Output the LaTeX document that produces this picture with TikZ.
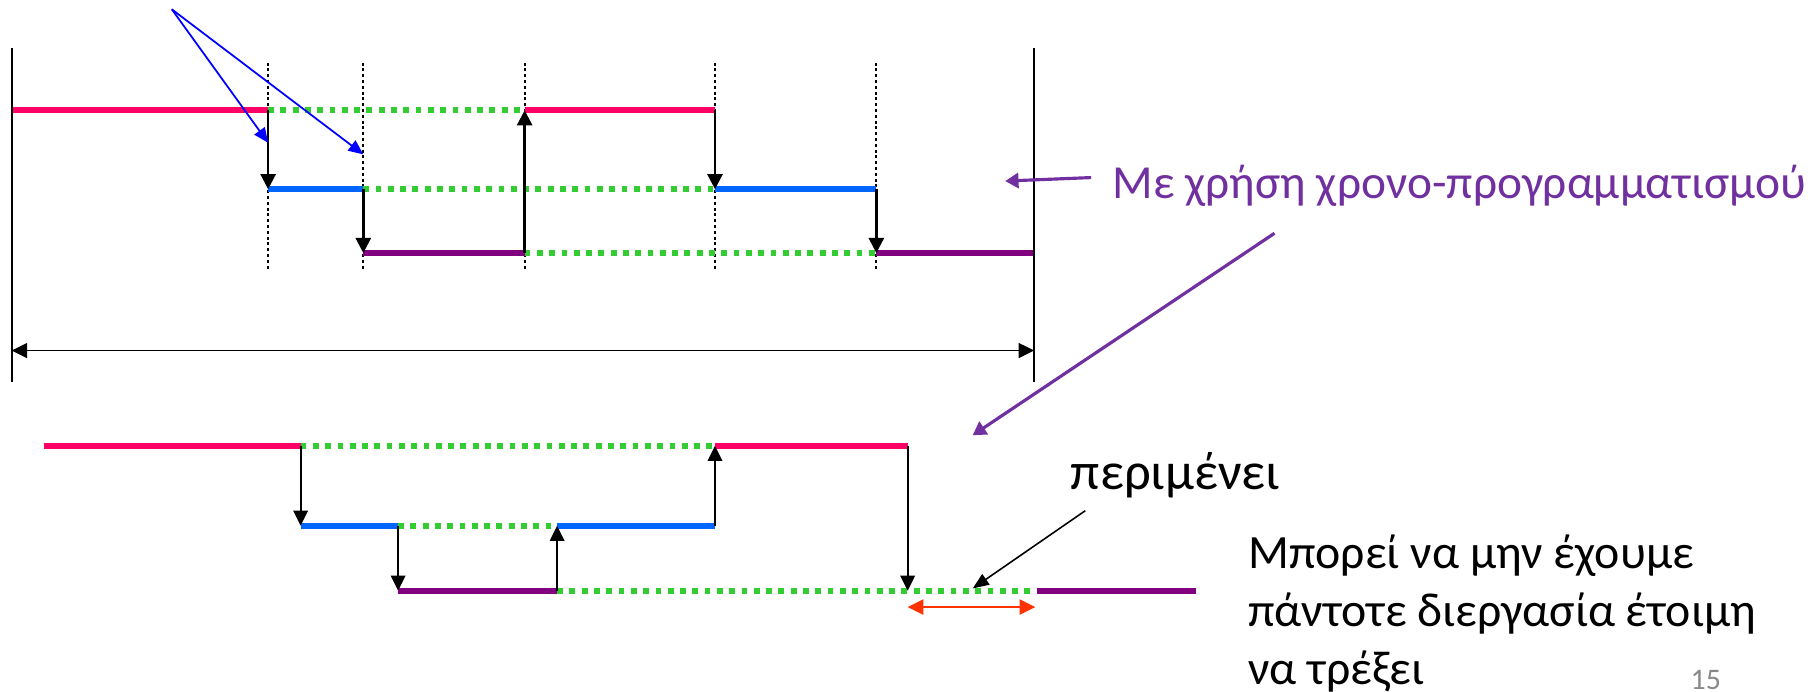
\documentclass[tikz,border=0pt]{standalone}
\usepackage{fontspec}
\setmainfont{Carlito}
\definecolor{procred}{RGB}{255,0,102}
\definecolor{procblue}{RGB}{0,102,255}
\definecolor{procviolet}{RGB}{128,0,128}
\definecolor{idlegreen}{RGB}{51,204,51}
\definecolor{notepurple}{RGB}{112,48,160}
\definecolor{hintblue}{RGB}{0,0,255}
\definecolor{gapred}{RGB}{255,51,0}
\definecolor{pagegrey}{RGB}{137,137,137}
\usepackage{tikz}
\usetikzlibrary{arrows.meta}

\begin{document}
\begin{tikzpicture}[x=0.011607cm, y=-0.011607cm, inner sep=0pt,
  runline/.style={line width=1.6pt},
  readyline/.style={line width=1.6pt, idlegreen, dash pattern=on 1.65pt off 1.85pt},
  guide/.style={line width=0.55pt, dash pattern=on 0.85pt off 0.8pt},
  switchto/.style={line width=0.7pt, -{Triangle[length=4.3pt, width=4.3pt]}},
  switchlow/.style={line width=0.55pt, -{Triangle[length=4.3pt, width=4.1pt]}},
  frameline/.style={line width=0.55pt},
  span/.style={line width=0.55pt, {Triangle[length=4.4pt, width=4.2pt]}-{Triangle[length=4.4pt, width=4.2pt]}},
  hint/.style={hintblue, line width=0.5pt, -{Triangle[length=4.2pt, width=3.6pt]}},
  callout/.style={notepurple, line width=0.9pt, -{Triangle[length=3.8pt, width=4.3pt]}},
  pointer/.style={line width=0.45pt, -{Triangle[length=4.6pt, width=3.6pt]}},
  gapspan/.style={gapred, line width=0.6pt, {Triangle[length=4.5pt, width=4.3pt]}-{Triangle[length=4.5pt, width=4.3pt]}},
  bigtext/.style={anchor=base west, font=\fontsize{13.6}{16}\selectfont}]
  \useasboundingbox (0,0) rectangle (1568,596);

  % with time slicing
  \coordinate (R_0) at (10,95);
  \coordinate (R_1) at (231,95);
  \coordinate (R_3) at (452,95);
  \coordinate (R_4) at (616,95);
  \coordinate (B_1) at (231,163);
  \coordinate (B_2) at (313,163);
  \coordinate (B_4) at (616,163);
  \coordinate (B_5) at (755,163);
  \coordinate (V_2) at (313,218);
  \coordinate (V_3) at (452,218);
  \coordinate (V_5) at (755,218);
  \coordinate (V_6) at (891,218);
  \coordinate (F_lt) at (10,41);
  \coordinate (F_lb) at (10,329);
  \coordinate (F_rt) at (891,41);
  \coordinate (F_rb) at (891,329);
  \coordinate (F_l) at (10,302);
  \coordinate (F_r) at (891,302);

  \draw[guide] (231,54) -- (231,232);
  \draw[guide] (313,54) -- (313,232);
  \draw[guide] (452,54) -- (452,232);
  \draw[guide] (616,54) -- (616,232);
  \draw[guide] (755,54) -- (755,232);

  \path (R_0) edge [runline, procred]    (R_1)
        (R_1) edge [readyline]           (R_3)
        (R_3) edge [runline, procred]    (R_4)
        (B_1) edge [runline, procblue]   (B_2)
        (B_2) edge [readyline]           (B_4)
        (B_4) edge [runline, procblue]   (B_5)
        (V_2) edge [runline, procviolet] (V_3)
        (V_3) edge [readyline]           (V_5)
        (V_5) edge [runline, procviolet] (V_6)
        ;
  \path (R_1) edge [switchto] (B_1)
        (B_2) edge [switchto] (V_2)
        (V_3) edge [switchto] (R_3)
        (R_4) edge [switchto] (B_4)
        (B_5) edge [switchto] (V_5)
        (F_lt) edge [frameline] (F_lb)
        (F_rt) edge [frameline] (F_rb)
        (F_l) edge [span] (F_r)
        ;

  % context switch hints
  \coordinate (Q)   at (148,8);
  \coordinate (Q_1) at (231,123);
  \coordinate (Q_2) at (313,133);
  \path (Q) edge [hint] (Q_1)
        (Q) edge [hint] (Q_2);

  % without time slicing
  \coordinate (r_0) at (38,384);
  \coordinate (r_1) at (259,384);
  \coordinate (r_4) at (616,384);
  \coordinate (r_5) at (782,384);
  \coordinate (b_1) at (259,453);
  \coordinate (b_2) at (343,453);
  \coordinate (b_3) at (480,453);
  \coordinate (b_4) at (616,453);
  \coordinate (v_2) at (343,509);
  \coordinate (v_3) at (480,509);
  \coordinate (v_5) at (782,509);
  \coordinate (v_6) at (890,509);
  \coordinate (v_7) at (893,509);
  \coordinate (v_8) at (1030,509);
  \coordinate (w_l) at (782,523);
  \coordinate (w_r) at (892,523);

  \path (r_0) edge [runline, procred]    (r_1)
        (r_1) edge [readyline]           (r_4)
        (r_4) edge [runline, procred]    (r_5)
        (b_1) edge [runline, procblue]   (b_2)
        (b_2) edge [readyline]           (b_3)
        (b_3) edge [runline, procblue]   (b_4)
        (v_2) edge [runline, procviolet] (v_3)
        (v_3) edge [readyline]           (v_6)
        (v_7) edge [runline, procviolet] (v_8)
        ;
  \path (r_1) edge [switchlow] (b_1)
        (b_2) edge [switchlow] (v_2)
        (v_3) edge [switchlow] (b_3)
        (b_4) edge [switchlow] (r_4)
        (r_5) edge [switchlow] (v_5)
        (w_l) edge [gapspan] (w_r)
        ;

  % texts
  \node[bigtext, notepurple, font=\fontsize{13.5}{16}\selectfont] (sched) at (958,171) {Με χρήση χρονο-προγραμματισμού};
  \node[bigtext, font=\fontsize{15}{17}\selectfont] (wait) at (922,422) {περιμένει};
  \node[bigtext] (note_1) at (1075,490) {Μπορεί να μην έχουμε};
  \node[bigtext] (note_2) at (1075,540) {πάντοτε διεργασία έτοιμη};
  \node[bigtext] (note_3) at (1075,590) {να τρέξει};
  \node[anchor=south west, pagegrey, font=\fontsize{8.5}{10}\selectfont] (page) at (1456,595) {15};

  \coordinate (sched_from) at (940,153);
  \coordinate (sched_tip)  at (866,156);
  \coordinate (down_from)  at (1098,201);
  \coordinate (down_tip)   at (838,375);
  \coordinate (wait_from)  at (935,440);
  \coordinate (wait_tip)   at (838,507);
  \path (sched_from) edge [callout] (sched_tip)
        (down_from)  edge [callout] (down_tip)
        (wait_from)  edge [pointer] (wait_tip);
\end{tikzpicture}
\end{document}
